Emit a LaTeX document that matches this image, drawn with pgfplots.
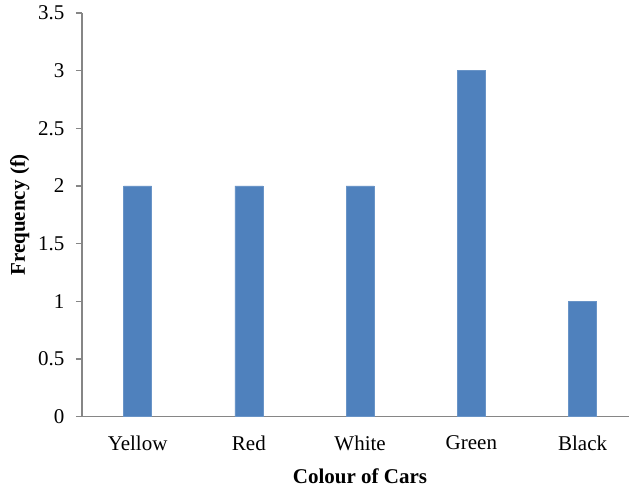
\documentclass[border=0pt]{standalone}
\usepackage{pgfplots}
\pgfplotsset{compat=1.18}
\usepackage{fontspec}
\setmainfont{Liberation Serif}

\definecolor{barblue}{HTML}{4F81BD}
\definecolor{axisgray}{HTML}{868686}

\begin{document}
\begin{tikzpicture}[x=1pt,y=1pt]
\useasboundingbox (0,0) rectangle (629,489);
\begin{axis}[
  at={(82pt,72.5pt)}, anchor=south west,
  scale only axis,
  width=547pt, height=403.5pt,
  font=\fontsize{21}{25}\selectfont,
  xmin=-0.5, xmax=4.417,
  ymin=0, ymax=3.5,
  ytick={0,0.5,...,3.5},
  xtick={0,1,2,3,4},
  xticklabels={Yellow,Red,White,Green,Black},
  axis x line*=bottom,
  axis y line*=left,
  axis line style={draw=axisgray, line width=1.5pt, -},
  tick align=outside,
  major tick length=6pt,
  xtick style={draw=none},
  ytick style={draw=axisgray, line width=1.4pt},
  yticklabel style={xshift=-8pt},
  xticklabel style={yshift=-10pt},
  /pgf/number format/assume math mode=true,
  yticklabel={\pgfmathprintnumber[fixed,precision=1]{\tick}},
  xlabel={\textbf{Colour of Cars}},
  ylabel={\textbf{Frequency (f)}},
  xlabel style={yshift=-11pt, xshift=4.5pt},
  ylabel style={yshift=2pt},
  ybar, bar width=28pt,
]
\addplot[fill=barblue, draw=barblue!85!white, line width=0.6pt] coordinates {
  (0,2) (1,2) (2,2) (3,3) (4,1)
};
\end{axis}
\end{tikzpicture}
\end{document}
